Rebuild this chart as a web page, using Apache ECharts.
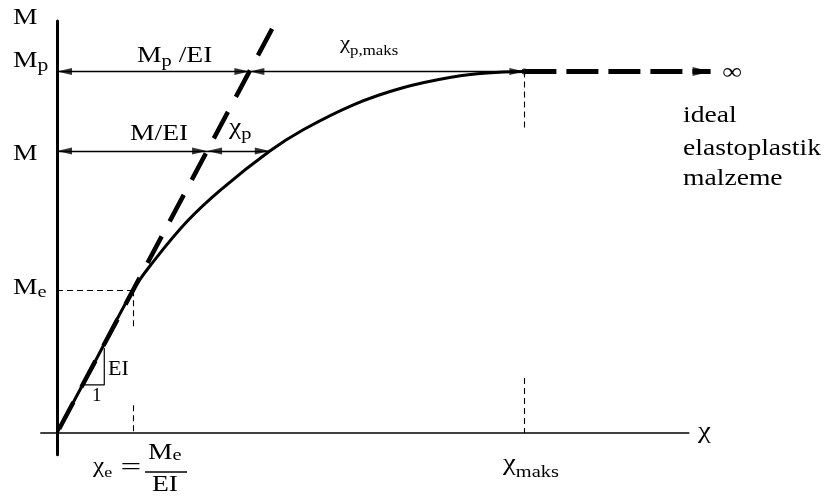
<!DOCTYPE html>
<html><head><meta charset="utf-8">
<script src="https://cdn.jsdelivr.net/npm/echarts@6/dist/echarts.min.js"></script>
<style>html,body{margin:0;padding:0;background:#fff}#c{width:826px;height:501px}</style>
</head><body><div id="c"></div>
<script>
// ---- data (curvature chi, moment M; Mp = 1, chi_e = 1) ----
const curveChi = [0, 0.5, 1, 1.26, 1.71, 2.15, 2.8, 3.24, 3.9, 4.55, 5.21, 5.66, 6.15];
const curveM   = [0, 0.1975, 0.395, 0.472, 0.585, 0.672, 0.78, 0.839, 0.908, 0.955, 0.985, 0.996, 1.0];
const EI = 0.395;          // elastic slope
const chiE = 1.0;          // chi_e
const Me = 0.395;          // elastic limit moment
const Mp = 1.0;            // plastic moment
const Mval = 0.78;         // intermediate moment M
const chiAtM = 2.8;        // curvature on curve at M
const chiMax = 6.15;       // chi_maks
const chiInf = 8.6;        // end of the "infinity" arrow
const elasticEndChi = 2.83;
const slopeTriChi = [0.36, 0.622, 0.622];
const slopeTriM   = [0.133, 0.133, 0.235];
const guideChiEBreak = [0.29, 0.077];     // dashed guide at chi_e: ends of the two pieces
const guideChiMaxBreak = [0.844, 0.152];  // dashed guide at chi_maks
const axisChiRange = [-0.22, 8.7];
const xAxisLineChi = [-0.22, 8.32];
const axisMRange = [-0.06, 1.14];
const yTickMain = ['M', 'M', 'M'];
const yTickSub  = ['p', '', 'e'];
const yTickVals = [Mp, Mval, Me];
const rightNote = ['ideal', 'elastoplastik', 'malzeme'];

const FONT = '"Liberation Serif", "Times New Roman", serif';
const SX = 1.2;
const chart = echarts.init(document.getElementById('c'));
const seg = (a, b) => [{coord: a}, {coord: b}];
const thin = {color: '#000', width: 1.3, type: 'solid'};
const guide = {color: '#000', width: 1.1, type: [6, 4]};

// arrow tips
const leftTips  = [[0, Mp], [Mp / EI, Mp], [0, Mval], [Mval / EI, Mval]];
const rightTips = [[Mp / EI, Mp], [chiMax, Mp], [Mval / EI, Mval], [chiAtM, Mval]];

const option = {
  animation: false,
  grid: {left: 40.28, right: 107.8, top: 20.9, bottom: 46.3},
  xAxis: {type: 'value', min: axisChiRange[0], max: axisChiRange[1],
    axisLine: {show: false}, axisTick: {show: false}, axisLabel: {show: false}, splitLine: {show: false}},
  yAxis: {type: 'value', min: axisMRange[0], max: axisMRange[1],
    axisLine: {show: true, onZero: true, lineStyle: {color: '#000', width: 3}},
    axisTick: {show: false}, axisLabel: {show: false}, splitLine: {show: false}},
  series: [
    {type: 'line', name: 'xaxis', data: xAxisLineChi.map(c => [c, 0]), symbol: 'none',
      lineStyle: {color: '#000', width: 1.5}, silent: true, z: 1},
    {type: 'line', name: 'curve', data: curveChi.map((c, i) => [c, curveM[i]]),
      smooth: 0.4, symbol: 'none', showSymbol: false,
      lineStyle: {color: '#000', width: 3}, silent: true, z: 3,
      markLine: {silent: true, symbol: ['none', 'none'],
        label: {show: false}, lineStyle: thin, emphasis: {disabled: true},
        data: [seg([0, Mp], [Mp / EI, Mp]), seg([Mp / EI, Mp], [chiMax, Mp]),
               seg([0, Mval], [Mval / EI, Mval]), seg([Mval / EI, Mval], [chiAtM, Mval])]}},
    {type: 'line', name: 'elastic', data: [[elasticEndChi, EI * elasticEndChi], [0, 0]],
      symbol: 'none', lineStyle: {color: '#000', width: 4.5, type: [30, 17]}, silent: true, z: 2,
      markLine: {silent: true, symbol: ['none', 'none'], label: {show: false}, lineStyle: guide,
        emphasis: {disabled: true},
        data: [seg([0, Me], [chiE, Me]), seg([chiE, Me], [chiE, guideChiEBreak[0]]),
               seg([chiE, guideChiEBreak[1]], [chiE, 0]),
               seg([chiMax, Mp], [chiMax, guideChiMaxBreak[0]]),
               seg([chiMax, guideChiMaxBreak[1]], [chiMax, 0])]}},
    {type: 'line', name: 'slope', data: slopeTriChi.map((c, i) => [c, slopeTriM[i]]),
      symbol: 'none', lineStyle: {color: '#000', width: 1.2}, silent: true, z: 2},
    {type: 'scatter', name: 'plastic', data: [[chiMax, Mp]], symbolSize: 6,
      itemStyle: {color: '#000'}, silent: true, z: 4,
      markLine: {silent: true, symbol: ['none', 'none'],
        label: {show: false}, lineStyle: {color: '#000', width: 5, type: [32, 10]},
        emphasis: {disabled: true},
        data: [seg([chiMax, Mp], [chiInf, Mp])]}},
    {type: 'scatter', name: 'arrowL', data: leftTips, symbol: 'triangle', symbolSize: [7, 15],
      symbolRotate: 90, symbolOffset: [7.5, 0], itemStyle: {color: '#000'}, silent: true, z: 5},
    {type: 'scatter', name: 'arrowR', data: rightTips, symbol: 'triangle', symbolSize: [7, 15],
      symbolRotate: -90, symbolOffset: [-7.5, 0], itemStyle: {color: '#000'}, silent: true, z: 5},
    {type: 'scatter', name: 'arrowInf', data: [[chiInf, Mp]], symbol: 'triangle', symbolSize: [9, 18],
      symbolRotate: -90, symbolOffset: [-9, 0], itemStyle: {color: '#000'}, silent: true, z: 5}
  ]
};
chart.setOption(option);

const P = a => chart.convertToPixel({gridIndex: 0}, a);
function T(anchor, dx, dy, text, o) {
  o = o || {};
  const p = P(anchor);
  const size = o.size || 23;
  const rich = {m: {fontSize: size, fontFamily: FONT, fill: '#000'}};
  if (o.sub) rich.s = {fontSize: o.sub[0], fontFamily: FONT, fill: '#000', padding: [o.sub[1], 0, 0, 0]};
  return {type: 'text', x: p[0] + dx, y: p[1] + dy, scaleX: o.sx == null ? SX : o.sx, z: 100, silent: true,
    style: {text: text, fontSize: size, fontFamily: FONT, fill: '#000',
      align: o.align || 'left', verticalAlign: 'middle', rich: rich}};
}
function tick(i) {
  return yTickSub[i] ? '{m|' + yTickMain[i] + '}{s|' + yTickSub[i] + '}' : yTickMain[i];
}
const tickDy = [-11, 2.5, -2.2];
const tickSub = [[18, 12], null, [17, 10]];
const g = [];
g.push(T([0, axisMRange[1]], -44, -3.4, 'M'));
yTickVals.forEach((v, i) => g.push(T([0, v], -44, tickDy[i], tick(i), {sub: tickSub[i]})));
g.push(T([0, Mp], 80, -16, '{m|M}{s|p}{m| /EI}', {sub: [17, 12]}));
g.push(T([0, Mval], 73, -17, 'M/EI'));
g.push(T([Mval / EI, Mval], 22, -22.6, '{m|χ}{s|p}', {sub: [17, 12]}));
g.push(T([Mp / EI, Mp], 90.6, -27.2, '{m|χ}{s|p,maks}', {size: 19, sub: [14, 15]}));
g.push(T([chiInf, Mp], 21.4, 1.5, '∞', {align: 'center'}));
const noteDy = [44.7, 77.7, 107.2];
rightNote.forEach((t, i) => g.push(T([chiInf, Mp], -27.6, noteDy[i], t)));
g.push(T([xAxisLineChi[1], 0], 8.7, -1.5, 'χ', {size: 24}));
g.push(T([chiMax, 0], -21.4, 31, '{m|χ}{s|maks}', {size: 24, sub: [17, 18]}));
g.push(T([chiE, 0], -40, 33, '{m|χ}{s|e}', {size: 21, sub: [15, 15]}));
g.push(T([chiE, 0], -2, 34.5, '=', {align: 'center', sx: 1.6}));
g.push(T([chiE, 0], 15, 19.5, '{m|M}{s|e}', {sub: [17, 6]}));
g.push(T([chiE, 0], 19, 51.5, 'EI'));
const pe = P([chiE, 0]);
g.push({type: 'line', silent: true, z: 100,
  shape: {x1: pe[0] + 12, y1: pe[1] + 39, x2: pe[0] + 54, y2: pe[1] + 39},
  style: {stroke: '#000', lineWidth: 1.3}});
g.push(T([slopeTriChi[1], slopeTriM[1]], 3.7, -15.5, 'EI', {size: 22, sx: 1}));
g.push(T([slopeTriChi[1], slopeTriM[1]], -12.3, 11.5, '1', {size: 19, sx: 1}));
chart.setOption({graphic: {elements: g}});
</script>
</body></html>
